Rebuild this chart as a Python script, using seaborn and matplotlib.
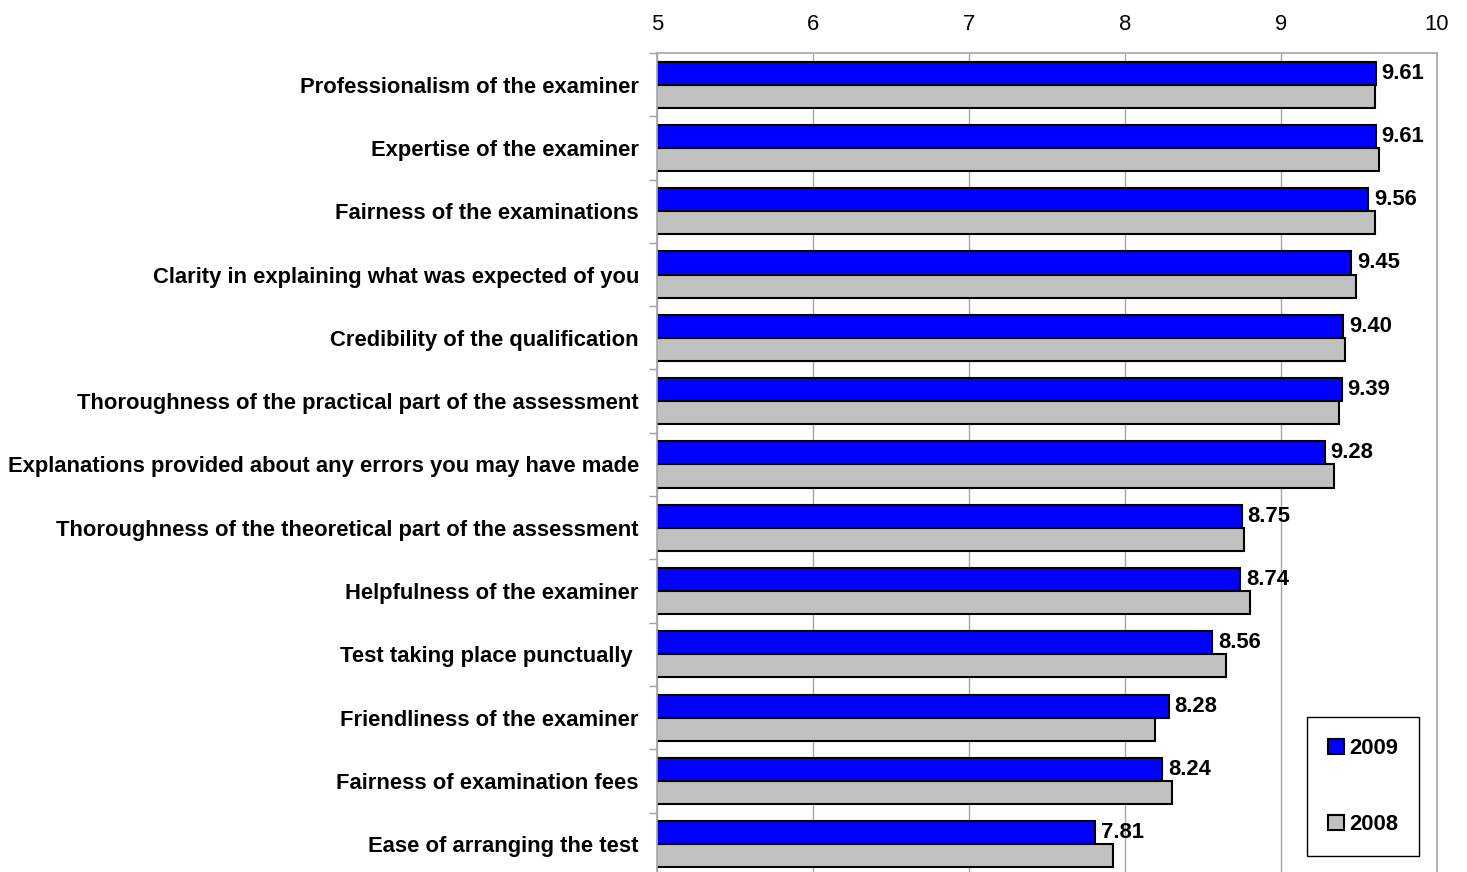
import numpy as np
import pandas as pd
import matplotlib
matplotlib.use("Agg")
import matplotlib.pyplot as plt
import seaborn as sns

categories = [
    "Professionalism of the examiner",
    "Expertise of the examiner",
    "Fairness of the examinations",
    "Clarity in explaining what was expected of you",
    "Credibility of the qualification",
    "Thoroughness of the practical part of the assessment",
    "Explanations provided about any errors you may have made",
    "Thoroughness of the theoretical part of the assessment",
    "Helpfulness of the examiner",
    "Test taking place punctually ",
    "Friendliness of the examiner",
    "Fairness of examination fees",
    "Ease of arranging the test",
]
values_2009 = [9.61, 9.61, 9.56, 9.45, 9.40, 9.39, 9.28, 8.75, 8.74, 8.56, 8.28, 8.24, 7.81]
values_2008 = [9.60, 9.63, 9.60, 9.48, 9.41, 9.37, 9.34, 8.76, 8.80, 8.65, 8.19, 8.30, 7.92]
series = ["2009", "2008"]
x_ticks = [5, 6, 7, 8, 9, 10]

df = pd.DataFrame({
    "category": categories * 2,
    "value": values_2009 + values_2008,
    "year": [series[0]] * len(categories) + [series[1]] * len(categories),
})

sns.set_theme(style="white")
plt.rcParams["font.family"] = ["Liberation Sans", "DejaVu Sans"]
plt.rcParams["text.color"] = "black"
plt.rcParams["xtick.color"] = "black"
plt.rcParams["ytick.color"] = "black"

FS = 15.8
W, H = 1467, 872
fig = plt.figure(figsize=(W / 100, H / 100), dpi=100)
left, right, top = 657, 1437, 53
band = 63.3
bottom = top + band * len(categories)
ax = fig.add_axes([left / W, 1 - bottom / H, (right - left) / W, (bottom - top) / H])

sns.barplot(
    data=df, y="category", x="value", hue="year", orient="h",
    palette={"2009": "#0000FF", "2008": "#C0C0C0"}, saturation=1,
    width=0.73, edgecolor="black", linewidth=1.5, ax=ax, legend=True,
)

ax.set_xlim(5, 10)
ax.set_xticks(x_ticks)
ax.set_xticklabels([str(t) for t in x_ticks], fontsize=FS)
ax.xaxis.tick_top()
ax.tick_params(axis="x", length=0, pad=13)
ax.set_xlabel("")
ax.set_ylabel("")
ax.set_ylim(len(categories) - 0.5, -0.5)

ax.set_yticks(range(len(categories)))
ax.set_yticklabels(categories, fontsize=FS, fontweight="bold")
ax.tick_params(axis="y", length=0, pad=13)
ax.set_yticks(np.arange(-0.5, len(categories), 1), minor=True)
ax.tick_params(axis="y", which="minor", length=6, color="#A0A0A0", width=1, left=True)

ax.grid(axis="x", color="#A6A6A6", linewidth=1)
ax.set_axisbelow(True)
ax.spines["bottom"].set_visible(False)
for s in ["left", "top", "right"]:
    ax.spines[s].set_color("#A6A6A6")
    ax.spines[s].set_linewidth(1.2)

ax.bar_label(ax.containers[0], fmt="%.2f", padding=4, fontsize=FS, fontweight="bold")

handles, labels = ax.get_legend_handles_labels()
ax.legend(
    handles, labels, loc="lower right",
    bbox_to_anchor=(1419 / W, 1 - 856 / H), bbox_transform=fig.transFigure,
    frameon=True, fancybox=False, edgecolor="black", framealpha=1,
    prop={"weight": "bold", "size": FS},
    handlelength=0.7, handleheight=0.7, handletextpad=0.25,
    labelspacing=2.5, borderpad=0.95, borderaxespad=0,
)
ax.get_legend().get_frame().set_linewidth(1)

fig.savefig("out.png", dpi=100)
